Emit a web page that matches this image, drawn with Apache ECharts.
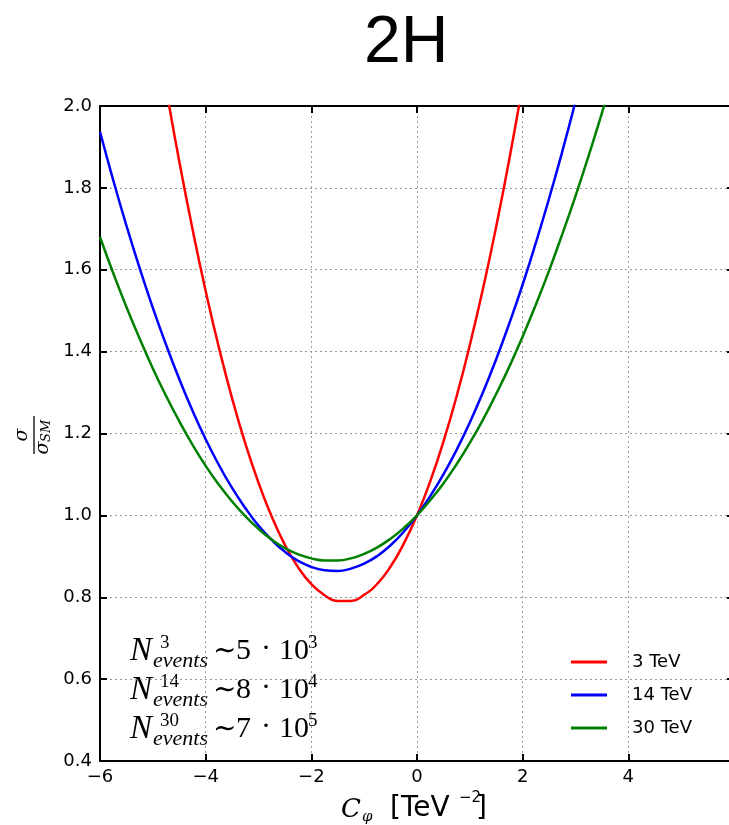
<!DOCTYPE html>
<html>
<head>
<meta charset="utf-8">
<script src="https://cdn.jsdelivr.net/npm/echarts@6/dist/echarts.min.js"></script>
<style>
  html, body { margin: 0; padding: 0; background: #fff; }
  #chart { width: 729px; height: 825px; }
</style>
</head>
<body>
<div id="chart"></div>
<script>
// Wilson coefficient C_phi [TeV^-2] sampled every 0.25
const cPhi = [-6, -5.75, -5.5, -5.25, -5, -4.75, -4.5, -4.25, -4, -3.75, -3.5, -3.25, -3,
              -2.75, -2.5, -2.25, -2, -1.75, -1.5, -1.25, -1, -0.75, -0.5, -0.25, 0,
              0.25, 0.5, 0.75, 1, 1.25, 1.5, 1.75, 2, 2.25, 2.5, 2.75, 3, 3.25, 3.5, 3.75, 4];

// sigma / sigma_SM for double Higgs production at each collider energy
const ratio3TeV  = [3.148, 2.900, 2.665, 2.444, 2.238, 2.044, 1.865, 1.700, 1.548, 1.410, 1.286,
                    1.176, 1.080, 0.997, 0.928, 0.873, 0.832, 0.805, 0.791, 0.791, 0.806,
                    0.833, 0.875, 0.931, 1.000, 1.083, 1.180, 1.291, 1.416, 1.554, 1.706,
                    1.872, 2.052, 2.246, 2.453, 2.674, 2.910, 3.158, 3.421, 3.698, 3.988];
const ratio14TeV = [1.937, 1.819, 1.708, 1.604, 1.507, 1.417, 1.333, 1.256, 1.186, 1.123, 1.067,
                    1.018, 0.975, 0.940, 0.911, 0.889, 0.874, 0.866, 0.864, 0.870, 0.882,
                    0.901, 0.927, 0.960, 1.000, 1.047, 1.100, 1.160, 1.227, 1.301, 1.382,
                    1.470, 1.564, 1.666, 1.774, 1.889, 2.011, 2.140, 2.275, 2.418, 2.567];
const ratio30TeV = [1.680, 1.592, 1.509, 1.432, 1.359, 1.292, 1.230, 1.173, 1.121, 1.075, 1.034,
                    0.998, 0.967, 0.941, 0.920, 0.905, 0.895, 0.890, 0.890, 0.895, 0.906,
                    0.922, 0.943, 0.969, 1.000, 1.037, 1.078, 1.125, 1.177, 1.234, 1.297,
                    1.364, 1.437, 1.515, 1.598, 1.687, 1.780, 1.879, 1.983, 2.092, 2.206];

const seriesNames  = ['3 TeV', '14 TeV', '30 TeV'];
const seriesColors = ['#ff0000', '#0000ff', '#008000'];

// Expected event counts: N^E_events ~ m * 10^k
const energies      = ['3', '14', '30'];
const eventMantissa = ['5', '8', '7'];
const eventExponent = ['3', '4', '5'];

// Axis ranges and tick spacing
const xRange = [-6, 6], xStep = 2;
const yRange = [0.4, 2.0], yStep = 0.2;

const chart = echarts.init(document.getElementById('chart'));

const allRatios = [ratio3TeV, ratio14TeV, ratio30TeV];
const series = allRatios.map((vals, i) => ({
  name: seriesNames[i],
  type: 'line',
  smooth: true,
  showSymbol: false,
  symbol: 'none',
  clip: true,
  color: seriesColors[i],
  lineStyle: { width: 2.5, color: seriesColors[i] },
  data: cPhi.map((c, j) => [c, vals[j]])
}));

const serif = '"Liberation Serif", "DejaVu Serif", serif';
const sans = '"DejaVu Sans", sans-serif';

function txt(x, y, text, font, align) {
  return {
    type: 'text', x: x, y: y, silent: true,
    style: { text: text, font: font, fill: '#000',
             textAlign: align || 'left', textVerticalAlign: 'middle' }
  };
}

// Event-count annotation, one row per energy
const annot = [];
energies.forEach((e, i) => {
  const yc = 651 + 39 * i;
  annot.push(txt(130, yc, 'N', 'italic 33px ' + serif));
  annot.push(txt(160, yc - 8, e, '19px ' + serif));
  annot.push(txt(153, yc + 10, 'events', 'italic 22px ' + serif));
  annot.push(txt(213, yc + 1, '\u223C', '28px "DejaVu Serif", serif'));
  annot.push(txt(236, yc, eventMantissa[i], '30px ' + serif));
  annot.push(txt(266, yc - 2, '\u00B7', '30px ' + serif, 'center'));
  annot.push(txt(279, yc, '10', '30px ' + serif));
  annot.push(txt(308, yc - 8, eventExponent[i], '19px ' + serif));
});

// x-axis title: C_phi [TeV^-2]
const xTitle = [
  txt(341, 810, 'C', 'italic 26px "DejaVu Serif", serif'),
  txt(362, 817, '\u03C6', 'italic 15px "DejaVu Serif", serif'),
  txt(390, 809, '[TeV', '28px ' + sans),
  txt(459, 798, '\u22122', '15px ' + sans),
  txt(476, 809, ']', '28px ' + sans)
];

// y-axis title: sigma / sigma_SM, rotated
const yTitle = {
  type: 'group', x: 34, y: 435, rotation: Math.PI / 2, silent: true,
  children: [
    txt(0, -12, '\u03C3', 'italic 19px "DejaVu Serif", serif', 'center'),
    { type: 'line', shape: { x1: -19, y1: 0, x2: 19, y2: 0 },
      style: { stroke: '#000', lineWidth: 1.3 } },
    txt(-13, 9, '\u03C3', 'italic 19px "DejaVu Serif", serif', 'center'),
    txt(-7, 13, 'SM', 'italic 13px "DejaVu Serif", serif')
  ]
};

const axisLineStyle = { color: '#000', width: 2 };
const tickStyle = { show: true, inside: true, length: 7, lineStyle: { color: '#000', width: 2 } };
const gridLine = { show: true, lineStyle: { color: '#9a9a9a', width: 1, type: [2, 3] } };
const fmtMinus = v => (v < 0 ? '\u2212' + (-v) : String(v));

chart.setOption({
  animation: false,
  backgroundColor: '#ffffff',
  title: {
    text: '2H', left: 359, top: 6,
    textStyle: { fontSize: 66, fontWeight: 'normal', color: '#000',
                 fontFamily: '"Liberation Sans", Arial, sans-serif' }
  },
  grid: { left: 100, top: 106, width: 634, height: 655, outerBoundsMode: 'none', containLabel: false },
  legend: {
    orient: 'vertical', left: 566, top: 648, itemGap: 15,
    icon: 'rect', itemWidth: 36, itemHeight: 3,
    data: seriesNames,
    textStyle: { fontSize: 18, color: '#000', fontFamily: sans, padding: [0, 0, 0, 20] }
  },
  xAxis: [{
    type: 'value', min: xRange[0], max: xRange[1], interval: xStep,
    axisLine: { show: true, onZero: false, lineStyle: axisLineStyle },
    axisTick: tickStyle,
    axisLabel: { fontSize: 18, color: '#000', fontFamily: sans, margin: 7,
                 showMaxLabel: true, showMinLabel: true, formatter: fmtMinus },
    splitLine: gridLine
  }, {
    type: 'value', position: 'top', min: xRange[0], max: xRange[1], interval: xStep,
    axisLine: { show: true, onZero: false, lineStyle: axisLineStyle },
    axisTick: tickStyle, axisLabel: { show: false }, splitLine: { show: false }
  }],
  yAxis: [{
    type: 'value', position: 'left', min: yRange[0], max: yRange[1], interval: yStep,
    axisLine: { show: true, onZero: false, lineStyle: axisLineStyle },
    axisTick: tickStyle,
    axisLabel: { fontSize: 18, color: '#000', fontFamily: sans, margin: 8,
                 showMaxLabel: true, showMinLabel: true, formatter: v => v.toFixed(1) },
    splitLine: gridLine
  }, {
    type: 'value', position: 'right', min: yRange[0], max: yRange[1], interval: yStep,
    axisLine: { show: true, onZero: false, lineStyle: axisLineStyle },
    axisTick: tickStyle, axisLabel: { show: false }, splitLine: { show: false }
  }],
  series: series,
  graphic: annot.concat(xTitle, [yTitle])
});
</script>
</body>
</html>
